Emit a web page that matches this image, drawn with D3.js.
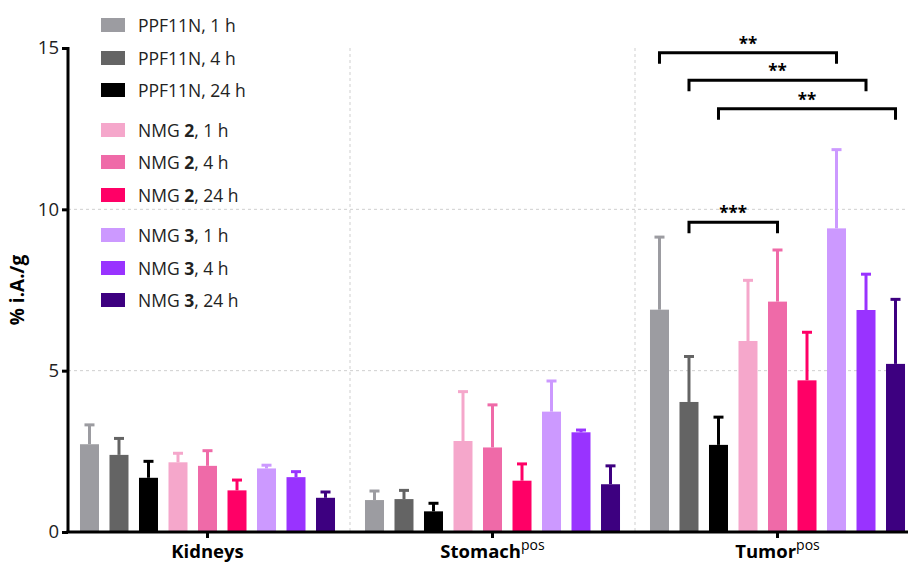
<!DOCTYPE html>
<html>
<head>
<meta charset="utf-8">
<script src="https://cdn.jsdelivr.net/npm/d3@7"></script>
<style>
  body { margin: 0; background: #fff; }
  text { font-family: "Open Sans", "DejaVu Sans", sans-serif; }
</style>
</head>
<body>
<script>
// Data
const organs = ["Kidneys", "Stomach", "Tumor"];
const organSup = ["", "pos", "pos"];
const series = ["PPF11N, 1 h", "PPF11N, 4 h", "PPF11N, 24 h",
                "NMG 2, 1 h", "NMG 2, 4 h", "NMG 2, 24 h",
                "NMG 3, 1 h", "NMG 3, 4 h", "NMG 3, 24 h"];
const colors = ["#9c9ca1", "#646464", "#000000",
                "#f5a7cb", "#ef6aa8", "#ff0066",
                "#cc99ff", "#9933ff", "#3d0080"];
// mean values per organ, in series order
const means = [
  [2.72, 2.39, 1.68, 2.16, 2.05, 1.29, 1.97, 1.70, 1.06],
  [0.99, 1.02, 0.64, 2.82, 2.62, 1.59, 3.73, 3.09, 1.48],
  [6.89, 4.03, 2.70, 5.92, 7.14, 4.70, 9.41, 6.88, 5.21]
];
// upper error (SD)
const errors = [
  [0.60, 0.51, 0.51, 0.28, 0.47, 0.32, 0.10, 0.17, 0.18],
  [0.28, 0.27, 0.25, 1.53, 1.32, 0.52, 0.95, 0.07, 0.57],
  [2.25, 1.41, 0.86, 1.88, 1.60, 1.49, 2.44, 1.11, 2.00]
];
const yTicks = [0, 5, 10, 15];
const gridTicks = [5, 10];
// significance brackets in Tumor group: [series a, series b, label, level]
const brackets = [
  [0, 6, "**", 14.85],
  [1, 7, "**", 14.0],
  [2, 8, "**", 13.12],
  [1, 4, "***", 9.6]
];

// View
const width = 908, height = 563;
const axisLeft = 68;

const svg = d3.select("body").append("svg")
  .attr("width", width).attr("height", height);

const y = d3.scaleLinear().domain([0, 15]).range([532, 48]);
const x0 = d3.scaleBand().domain(organs).range([65, 920]);
const x1 = d3.scaleBand().domain(series).range([0, x0.bandwidth()])
  .paddingInner(0.356).paddingOuter(0.508);

// Grid lines
svg.selectAll(".hgrid").data(gridTicks).enter().append("line")
  .attr("x1", axisLeft).attr("x2", width)
  .attr("y1", d => y(d)).attr("y2", d => y(d))
  .attr("stroke", "#cfcfcf").attr("stroke-width", 1)
  .attr("stroke-dasharray", "3,3");

svg.selectAll(".vgrid").data(organs.slice(1)).enter().append("line")
  .attr("x1", d => x0(d)).attr("x2", d => x0(d))
  .attr("y1", y(15)).attr("y2", y(0))
  .attr("stroke", "#cfcfcf").attr("stroke-width", 1)
  .attr("stroke-dasharray", "3,3");

// Bars and error bars
const rows = [];
organs.forEach((o, i) => {
  series.forEach((s, j) => {
    rows.push({organ: o, s: s, j: j, v: means[i][j], e: errors[i][j]});
  });
});

const g = svg.selectAll(".bar").data(rows).enter().append("g");
g.append("line")
  .attr("x1", d => x0(d.organ) + x1(d.s) + x1.bandwidth() / 2)
  .attr("x2", d => x0(d.organ) + x1(d.s) + x1.bandwidth() / 2)
  .attr("y1", d => y(d.v)).attr("y2", d => y(d.v + d.e))
  .attr("stroke", d => colors[d.j]).attr("stroke-width", 3);
g.append("line")
  .attr("x1", d => x0(d.organ) + x1(d.s) + x1.bandwidth() / 2 - 5)
  .attr("x2", d => x0(d.organ) + x1(d.s) + x1.bandwidth() / 2 + 5)
  .attr("y1", d => y(d.v + d.e)).attr("y2", d => y(d.v + d.e))
  .attr("stroke", d => colors[d.j]).attr("stroke-width", 3);
g.append("rect")
  .attr("x", d => x0(d.organ) + x1(d.s))
  .attr("y", d => y(d.v))
  .attr("width", x1.bandwidth())
  .attr("height", d => y(0) - y(d.v))
  .attr("fill", d => colors[d.j]);

// Axes
const yAxis = svg.append("g")
  .attr("transform", `translate(${axisLeft},0)`)
  .call(d3.axisLeft(y).tickValues(yTicks).tickSize(6).tickPadding(3));
yAxis.select(".domain").attr("stroke-width", 3).attr("d", `M0,${y(15) - 1}V${y(0)}`);
yAxis.selectAll(".tick line").attr("stroke-width", 3);
yAxis.selectAll(".tick text")
  .attr("font-size", 18.5).attr("fill", "#222")
  .style("font-family", '"Open Sans", sans-serif');

const xAxis = svg.append("g")
  .attr("transform", `translate(0,${y(0)})`)
  .call(d3.axisBottom(x0).tickSize(6).tickFormat(""));
xAxis.select(".domain").attr("stroke-width", 3).attr("d", `M${axisLeft - 1.5},0H${width}`);
xAxis.selectAll(".tick line").attr("stroke-width", 3);

const labels = svg.selectAll(".xlab").data(organs).enter().append("text")
  .attr("x", d => x0(d) + x0.bandwidth() / 2)
  .attr("y", 558)
  .attr("text-anchor", "middle")
  .attr("font-size", 18.5).attr("font-weight", "bold");
labels.append("tspan").text(d => d);
labels.append("tspan")
  .text((d, i) => organSup[i])
  .attr("font-weight", "normal").attr("font-size", 14)
  .attr("dy", -8);

svg.append("text")
  .attr("transform", `translate(24,${(y(0) + y(15)) / 2}) rotate(-90)`)
  .attr("text-anchor", "middle")
  .attr("font-size", 19).attr("font-weight", "bold")
  .text("% i.A./g");

// Significance brackets
const tumorX = j => x0("Tumor") + x1(series[j]) + x1.bandwidth() / 2;
brackets.forEach(b => {
  const xa = tumorX(b[0]), xb = tumorX(b[1]), yy = y(b[3]);
  svg.append("path")
    .attr("d", `M${xa},${yy + 11}V${yy}H${xb}V${yy + 11}`)
    .attr("fill", "none").attr("stroke", "#000").attr("stroke-width", 3);
  svg.append("text")
    .attr("x", (xa + xb) / 2).attr("y", yy - 3)
    .attr("text-anchor", "middle")
    .attr("font-size", 17).attr("font-weight", "bold")
    .text(b[2]);
});

// Legend
const legendY = [25, 58, 90, 130, 162, 195, 235, 268, 300];
const leg = svg.selectAll(".leg").data(series).enter().append("g")
  .attr("transform", (d, i) => `translate(101,${legendY[i]})`);
leg.append("rect")
  .attr("x", 0).attr("y", -7).attr("width", 24).attr("height", 14)
  .attr("fill", (d, i) => colors[i]);
const lt = leg.append("text")
  .attr("x", 37).attr("y", 6.5)
  .attr("font-size", 17.5).attr("fill", "#222");
lt.each(function(d) {
  const t = d3.select(this);
  const m = d.match(/^NMG (\d)(.*)$/);
  if (m) {
    t.append("tspan").text("NMG ");
    t.append("tspan").attr("font-weight", "bold").text(m[1]);
    t.append("tspan").text(m[2]);
  } else {
    t.text(d);
  }
});
</script>
</body>
</html>
